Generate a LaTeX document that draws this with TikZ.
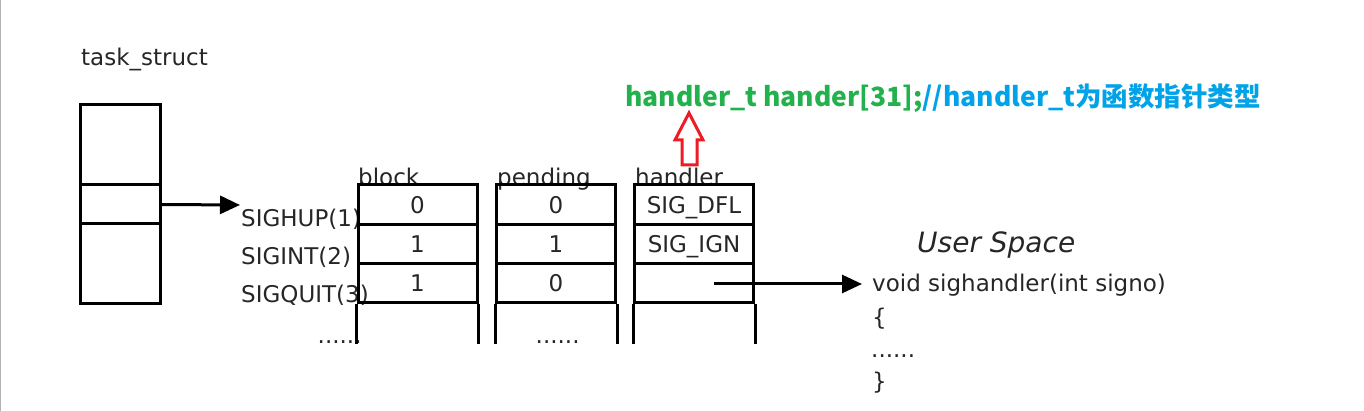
\documentclass[tikz,border=0pt]{standalone}
\usepackage{fontspec}
\setmainfont{DejaVu Sans}
\newfontfamily\cjkb{Noto Sans CJK SC}
\usetikzlibrary{arrows.meta}
\definecolor{txt}{HTML}{262626}
\definecolor{pgreen}{HTML}{22B14C}
\definecolor{pblue}{HTML}{00A2E8}
\definecolor{pred}{HTML}{ED1C24}
\tikzset{
  lbl/.style={inner sep=0pt, anchor=base west, text=txt, font=\fontsize{23}{27}\selectfont},
  cell/.style={draw, line width=3pt, minimum width=119pt, minimum height=39.3pt, inner sep=0pt,
    text height=16.8pt, text depth=0pt, text=txt, font=\fontsize{23}{27}\selectfont},
  tcell/.style={draw, line width=3pt, minimum width=80pt, inner sep=0pt},
  conn/.style={line width=3pt, -{Triangle[length=20pt,width=18pt]}},
}
\begin{document}
\begin{tikzpicture}[x=1pt,y=-1pt]
\useasboundingbox (0,0) rectangle (1364,411);
\draw[gray!60, line width=0.8pt] (0.4,0) -- (0.4,411);

% task_struct
\node[lbl] (ts) at (81,66) {task\_struct};
\node[tcell, minimum height=80pt] (t1) at (120,145) {};
\node[tcell, minimum height=39pt] (t2) at (120,204.5) {};
\node[tcell, minimum height=80pt] (t3) at (120,264) {};

% signal names
\node[lbl] (s1) at (241,227) {SIGHUP(1)};
\node[lbl] (s2) at (241,265) {SIGINT(2)};
\node[lbl] (s3) at (241,303) {SIGQUIT(3)};
\node[lbl] (sd) at (317.5,343) {......};

% column headers
\node[lbl] (hb) at (358,186) {block};
\node[lbl] (hp) at (497,186) {pending};
\node[lbl] (hh) at (635,186) {handler};

% block column
\node[cell] (b1) at (417.5,204.65) {0};
\node[cell] (b2) at (417.5,243.95) {1};
\node[cell] (b3) at (417.5,283.25) {1};
% pending column
\node[cell] (p1) at (556,204.65) {0};
\node[cell] (p2) at (556,243.95) {1};
\node[cell] (p3) at (556,283.25) {0};
\node[lbl] (pd) at (535.5,343) {......};
% handler column
\node[cell] (h1) at (694,204.65) {SIG\_DFL};
\node[cell] (h2) at (694,243.95) {SIG\_IGN};
\node[cell] (h3) at (694,283.25) {};

\foreach \c in {b3,p3,h3}{
  \draw[line width=3pt] (\c.south west) -- ++(0,40);
  \draw[line width=3pt] (\c.south east) -- ++(0,40);
}

% arrow task_struct -> signals
\coordinate (sigtip) at (240,205);
\draw[conn] (t2.east) -- (sigtip);

% user space
\node[lbl, font=\fontsize{28}{32}\selectfont\itshape] (us) at (917,253) {User Space};
\node[lbl] (c1) at (872,292) {void sighandler(int signo)};
\node[lbl] (c2) at (872,325) {\{};
\node[lbl] (c3) at (871,357) {......};
\node[lbl] (c4) at (872,389) {\}};

\coordinate (hs) at (714,284);
\coordinate (htip) at (862,284);
\draw[conn] (hs) -- (htip);

% annotation
\node[inner sep=0pt, anchor=base west, font=\cjkb\bfseries\fontsize{26.5}{30}\selectfont] (ann) at (625,107)
  {\textcolor{pgreen}{handler\_t hander[31];}\textcolor{pblue}{//handler\_t为函数指针类型}};

% red hollow arrow
\draw[pred, line width=3pt, fill=white, line join=miter]
  (689,113) -- (703,140) -- (697,140) -- (697,165) -- (682,165) -- (682,140) -- (675,140) -- cycle;
\end{tikzpicture}
\end{document}
